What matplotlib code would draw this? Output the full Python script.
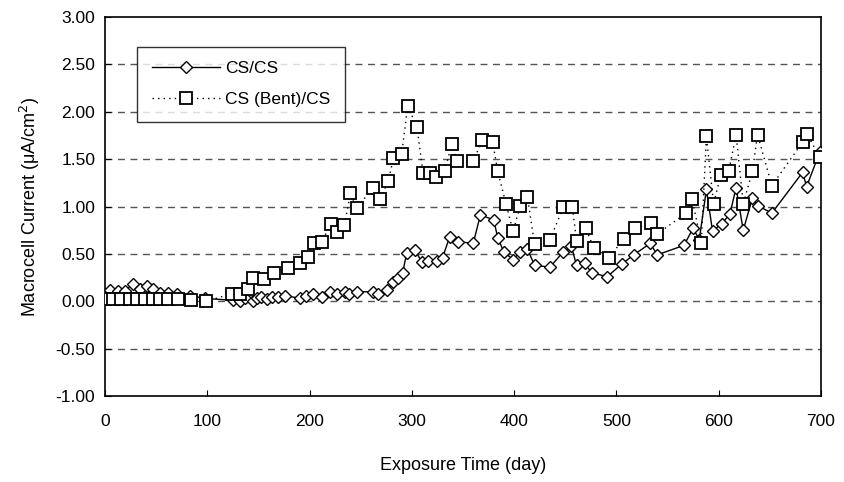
import matplotlib
matplotlib.use("Agg")
import matplotlib.pyplot as plt

plt.rcParams["font.family"] = ["Liberation Sans", "DejaVu Sans"]

X_TITLE = "Exposure Time (day)"
Y_TITLE = "Macrocell Current (\u03bcA/cm$^2$)"
LABEL_CS = "CS/CS"
LABEL_BENT = "CS (Bent)/CS"

# CS/CS (diamonds)
cs_days = [0, 5, 13, 20, 27, 34, 41, 47, 54, 62, 70, 83, 98,
           125, 132, 137, 145, 149, 153, 158, 163, 169, 176, 191, 197, 203,
           212, 220, 227, 235, 239, 246, 262, 267, 276, 282, 286, 291, 295,
           303, 310, 316, 325, 330, 337, 345, 360, 367, 380, 384, 390, 399,
           406, 413, 420, 435, 448, 456, 461, 469, 476, 491, 505, 517, 533,
           540, 566, 575, 581, 588, 594, 603, 611, 617, 624, 633, 638, 652,
           682, 686, 699]
cs_vals = [0.08, 0.12, 0.11, 0.11, 0.18, 0.13, 0.16, 0.13, 0.09, 0.09, 0.08, 0.06, 0.03,
           0.01, 0.00, 0.03, 0.00, 0.03, 0.04, 0.02, 0.04, 0.04, 0.06, 0.03, 0.06, 0.08,
           0.05, 0.10, 0.08, 0.10, 0.08, 0.10, 0.10, 0.08, 0.12, 0.20, 0.25, 0.30, 0.51,
           0.54, 0.41, 0.43, 0.42, 0.46, 0.68, 0.63, 0.61, 0.91, 0.86, 0.67, 0.52, 0.44,
           0.52, 0.55, 0.38, 0.36, 0.52, 0.58, 0.38, 0.40, 0.30, 0.26, 0.39, 0.49, 0.61,
           0.49, 0.59, 0.77, 0.65, 1.18, 0.74, 0.82, 0.92, 1.20, 0.75, 1.09, 1.01, 0.93,
           1.36, 1.21, 1.58]

# CS (Bent)/CS (squares)
bent_days = [0, 8, 16, 24, 31, 39, 47, 54, 62, 71, 84, 99,
             124, 132, 140, 145, 155, 165, 179, 191, 198, 204, 212, 221, 227,
             234, 240, 246, 262, 269, 277, 282, 290, 296, 305, 311, 318, 324,
             332, 339, 344, 360, 369, 379, 384, 392, 399, 406, 413, 420, 435,
             448, 457, 461, 470, 478, 493, 507, 518, 534, 540, 568, 574, 583,
             588, 595, 602, 610, 617, 624, 633, 638, 652, 682, 686, 699]
bent_vals = [0.02, 0.02, 0.02, 0.02, 0.02, 0.02, 0.02, 0.02, 0.02, 0.02, 0.01, 0.00,
             0.08, 0.08, 0.13, 0.25, 0.23, 0.30, 0.35, 0.40, 0.47, 0.62, 0.63, 0.82, 0.73,
             0.80, 1.14, 0.98, 1.20, 1.08, 1.27, 1.51, 1.55, 2.06, 1.84, 1.35, 1.35, 1.31,
             1.37, 1.66, 1.48, 1.48, 1.70, 1.68, 1.37, 1.03, 0.74, 1.01, 1.10, 0.60, 0.65,
             0.99, 0.99, 0.64, 0.77, 0.56, 0.46, 0.66, 0.77, 0.83, 0.71, 0.93, 1.08, 0.62,
             1.74, 1.03, 1.33, 1.38, 1.76, 1.03, 1.37, 1.76, 1.22, 1.68, 1.77, 1.52]

y_ticks = [-1.0, -0.5, 0.0, 0.5, 1.0, 1.5, 2.0, 2.5, 3.0]
x_ticks = [0, 100, 200, 300, 400, 500, 600, 700]


def draw(ax):
    for y in y_ticks[1:-1]:
        ax.axhline(y, color="#555555", lw=1.0, ls=(0, (5, 4)), zorder=1)

    ax.plot(cs_days, cs_vals, color="black", lw=1.0, marker="D", ms=6,
            mfc="white", mec="black", mew=1.0, label=LABEL_CS, zorder=3)
    ax.plot(bent_days, bent_vals, color="black", lw=1.0, ls=(0, (1, 3)),
            marker="s", ms=9, mfc="white", mec="black", mew=1.3,
            label=LABEL_BENT, zorder=4)

    ax.set_xlim(0, 700)
    ax.set_ylim(-1.0, 3.0)
    ax.set_xticks(x_ticks)
    ax.set_yticks(y_ticks)
    ax.set_yticklabels(["{:.2f}".format(v) for v in y_ticks])
    ax.tick_params(direction="in", length=4, labelsize=12.5, colors="black")
    ax.tick_params(axis="x", pad=13)
    ax.tick_params(axis="y", pad=7)
    for s in ax.spines.values():
        s.set_linewidth(1.2)

    ax.set_xlabel(X_TITLE, fontsize=13, labelpad=20)
    ax.set_ylabel(Y_TITLE, fontsize=13, labelpad=10)

    leg = ax.legend(loc="upper left", bbox_to_anchor=(0.045, 0.922), fontsize=12.5,
                    frameon=True, fancybox=False, edgecolor="black",
                    handlelength=3.9, borderpad=0.85, labelspacing=0.9,
                    handletextpad=0.3, borderaxespad=0.0)
    leg.get_frame().set_linewidth(1.0)


if __name__ == "__main__":
    fig = plt.figure(figsize=(8.44, 4.82), dpi=100)
    ax = fig.add_axes([0.1244, 0.1784, 0.8483, 0.7863])
    draw(ax)
    fig.savefig("out.png", dpi=100)
